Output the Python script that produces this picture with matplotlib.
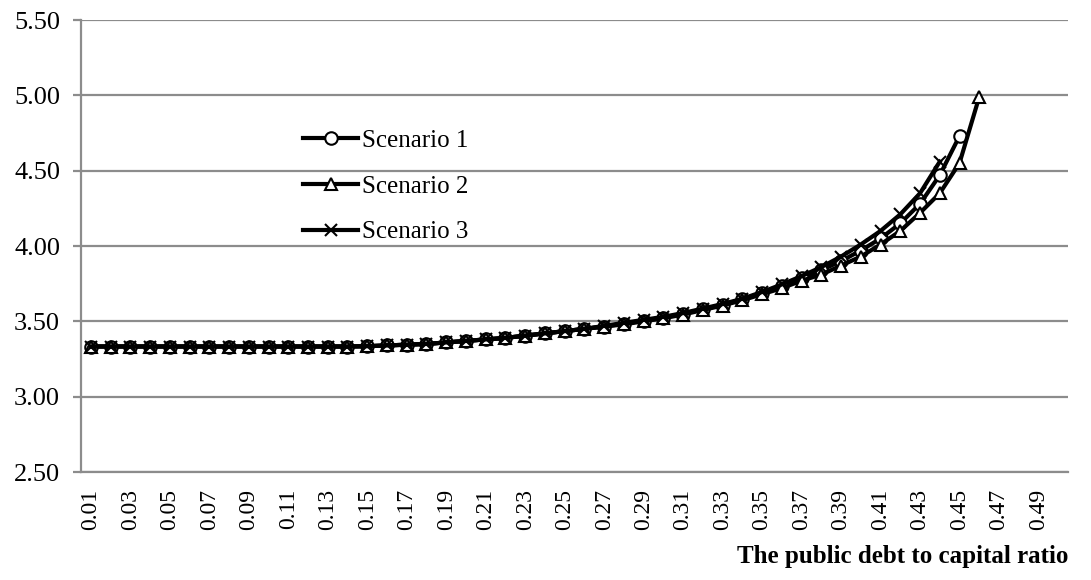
import numpy as np
import matplotlib.pyplot as plt

plt.rcParams['font.family'] = ['Liberation Serif', 'DejaVu Serif']

# debt-to-capital ratio categories 0.01 .. 0.50
ratios = [round(0.01 * k, 2) for k in range(1, 51)]

# values (nan = no point drawn)
nan = np.nan
scenario_1 = [3.333, 3.333, 3.333, 3.333, 3.333, 3.333, 3.333, 3.333, 3.333, 3.333,
              3.333, 3.333, 3.333, 3.333, 3.335, 3.34, 3.345, 3.35, 3.36, 3.37,
              3.38, 3.39, 3.405, 3.42, 3.435, 3.45, 3.465, 3.485, 3.505, 3.525,
              3.55, 3.58, 3.61, 3.645, 3.69, 3.735, 3.785, 3.84, 3.90, 3.97,
              4.05, 4.15, 4.28, 4.47, 4.73, nan, nan, nan, nan, nan]
scenario_2 = [3.333, 3.333, 3.333, 3.333, 3.333, 3.333, 3.333, 3.333, 3.333, 3.333,
              3.333, 3.333, 3.333, 3.333, 3.335, 3.34, 3.345, 3.35, 3.36, 3.37,
              3.38, 3.39, 3.405, 3.42, 3.435, 3.45, 3.465, 3.48, 3.50, 3.52,
              3.545, 3.575, 3.605, 3.64, 3.68, 3.72, 3.77, 3.81, 3.87, 3.93,
              4.01, 4.10, 4.22, 4.35, 4.55, 4.99, nan, nan, nan, nan]
scenario_3 = [3.333, 3.333, 3.333, 3.333, 3.333, 3.333, 3.333, 3.333, 3.333, 3.333,
              3.333, 3.333, 3.333, 3.333, 3.335, 3.34, 3.345, 3.35, 3.36, 3.37,
              3.38, 3.39, 3.405, 3.42, 3.435, 3.45, 3.47, 3.49, 3.51, 3.53,
              3.555, 3.585, 3.615, 3.65, 3.695, 3.745, 3.80, 3.86, 3.93, 4.01,
              4.10, 4.21, 4.35, 4.56, nan, nan, nan, nan, nan, nan]

y_ticks = [2.50, 3.00, 3.50, 4.00, 4.50, 5.00, 5.50]

fig = plt.figure(figsize=(10.91, 5.80), dpi=100)
ax = fig.add_axes([0.0742, 0.1862, 0.9048, 0.7793])

x = np.arange(len(ratios))
lw = 3.0
ms = 9
ax.plot(x, scenario_1, color='black', lw=lw, marker='o', ms=ms,
        mfc='white', mec='black', mew=1.5, label='Scenario 1', zorder=3)
ax.plot(x, scenario_2, color='black', lw=lw, marker='^', ms=ms,
        mfc='white', mec='black', mew=1.5, label='Scenario 2', zorder=3)
ax.plot(x, scenario_3, color='black', lw=lw, marker='x', ms=ms,
        mec='black', mew=1.5, label='Scenario 3', zorder=3)

ax.set_xlim(-0.5, len(ratios) - 0.5)
ax.set_ylim(2.5, 5.5)
ax.set_yticks(y_ticks)
ax.set_yticklabels(['%.2f' % v for v in y_ticks], fontsize=19)
ax.set_xticks(x[::2])
ax.set_xticklabels(['%.2f' % r for r in ratios[::2]], rotation=90, fontsize=17)

ax.grid(axis='y', color='#8c8c8c', lw=1.6)
ax.set_axisbelow(True)
for s in ['top', 'right']:
    ax.spines[s].set_visible(False)
for s in ['left', 'bottom']:
    ax.spines[s].set_color('#8c8c8c')
    ax.spines[s].set_linewidth(1.6)
ax.tick_params(axis='y', length=6, width=1.6, color='#8c8c8c', pad=9)
ax.tick_params(axis='x', length=0, pad=12)

ax.legend(loc='upper left', bbox_to_anchor=(0.225, 0.758), frameon=False,
          fontsize=18, handlelength=2.2, handletextpad=0.16, labelspacing=0.93,
          borderaxespad=0, borderpad=0)

fig.text(1068 / 1091, 1 - 556 / 580, 'The public debt to capital ratio',
         ha='right', va='center', fontsize=18, fontweight='bold')

fig.savefig('out.png', dpi=100)
